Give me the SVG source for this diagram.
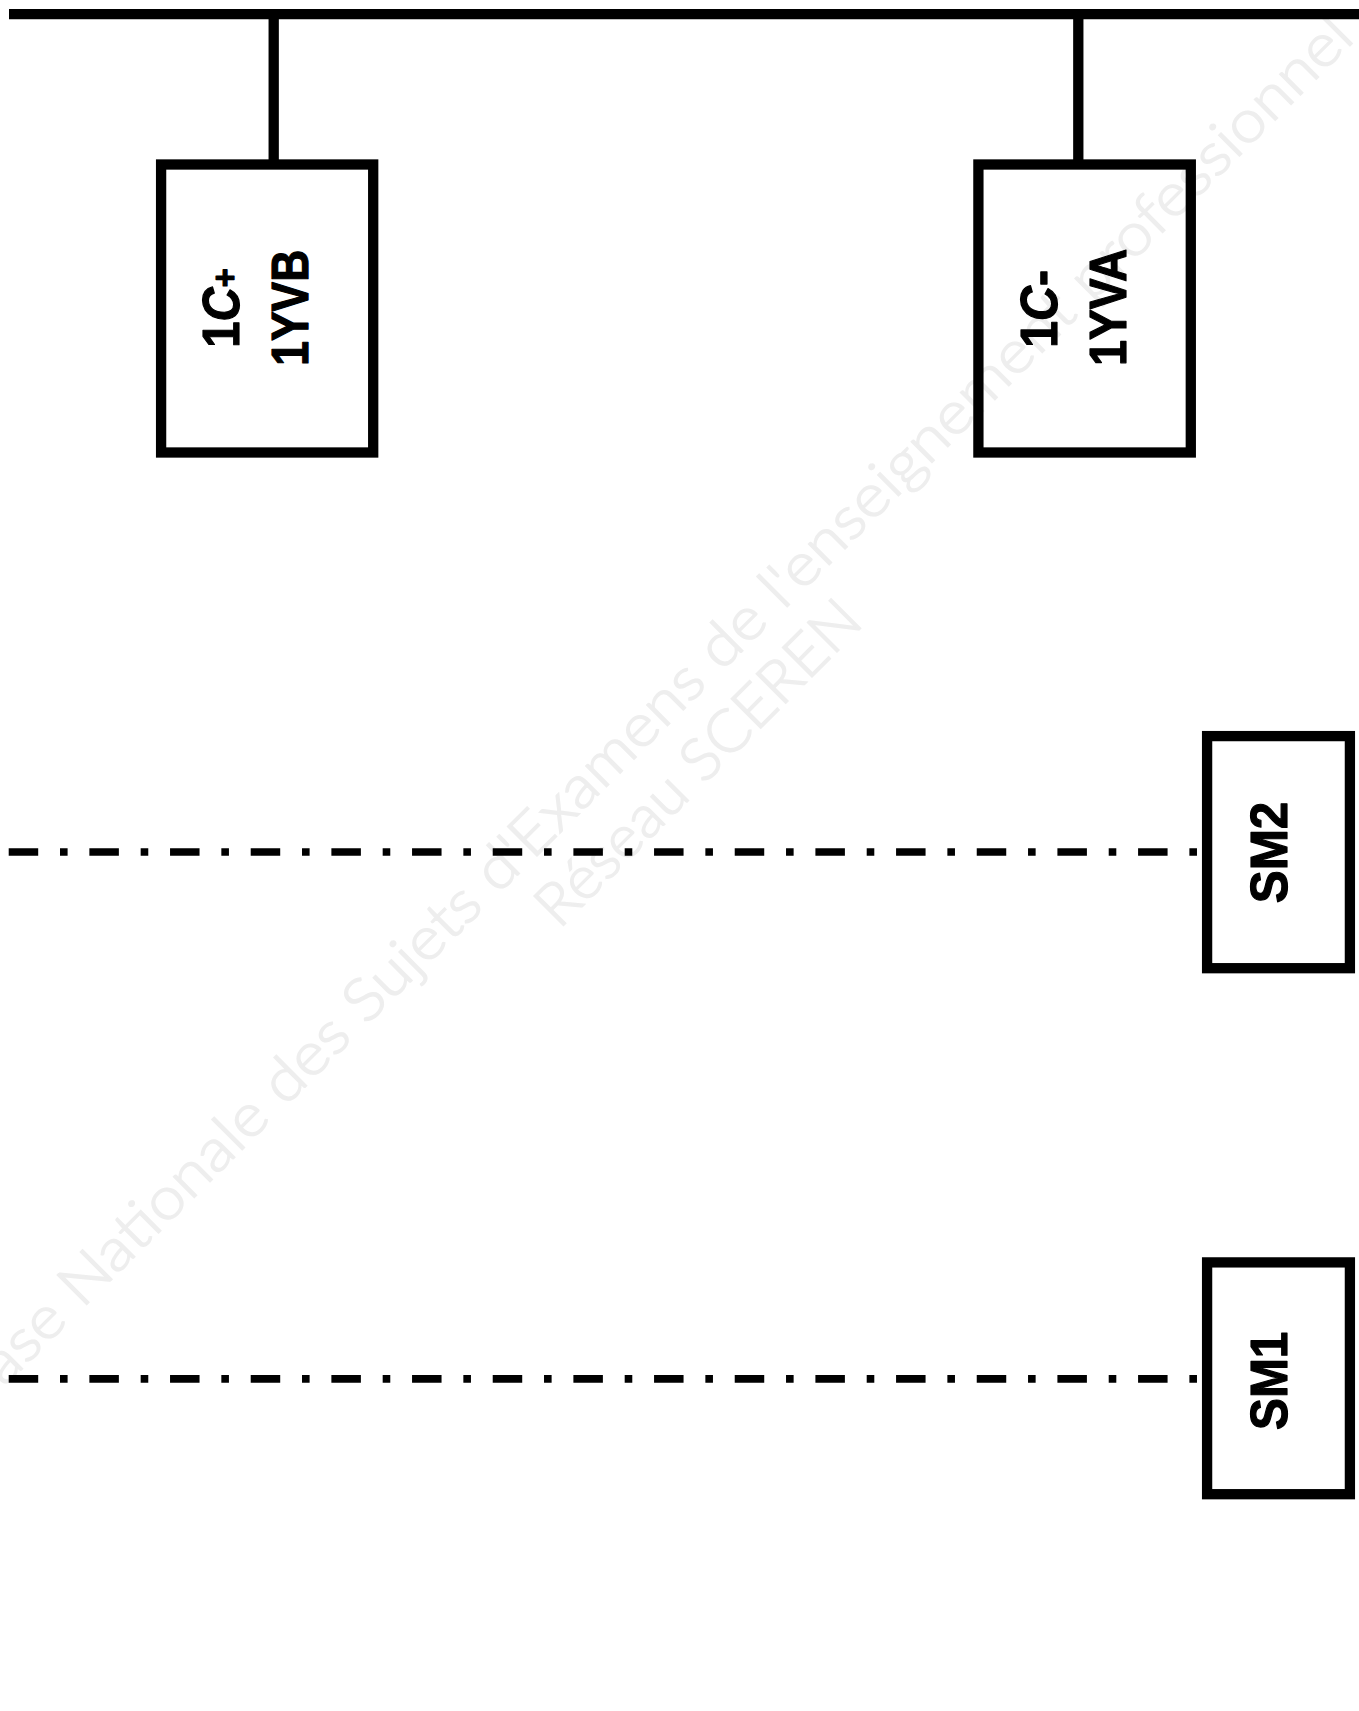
<svg xmlns="http://www.w3.org/2000/svg" width="1359" height="1711" viewBox="0 0 1359 1711">
<style>
.box{fill:none;stroke:#000;stroke-width:10.3}
.wire{fill:none;stroke:#000;stroke-width:10.3}
.dash{fill:none;stroke:#000;stroke-width:7.7;stroke-dasharray:29.5 21.8 7.6 21.77}
.lbl{font-family:"Liberation Sans",Arial,sans-serif;font-weight:700;font-size:51px;fill:#000;stroke:#000;stroke-width:1.2;stroke-linejoin:round}
.mark{font-family:Lato,"Open Sans",sans-serif;font-weight:300;font-size:59px;fill:#eee;stroke:#eee;stroke-width:1.4}
</style>
<rect width="1359" height="1711" fill="#fff"/>
<g id="watermark">
<text class="mark" transform="translate(-25,1416) rotate(-44.9)" textLength="1950" lengthAdjust="spacingAndGlyphs">Base Nationale des Sujets d'Examens de l'enseignement professionnel</text>
<text class="mark" transform="translate(559,930) rotate(-45)" textLength="433" lengthAdjust="spacingAndGlyphs">Réseau SCEREN</text>
</g>
<g id="connectors">
<path class="wire" d="M9 14.2H1359"/>
<path class="wire" d="M273.7 14V162"/>
<path class="wire" d="M1078.3 14V162"/>
<path class="dash" d="M8.7 852H1197"/>
<path class="dash" d="M8.7 1378.8H1197"/>
</g>
<g id="node-1C-plus">
<rect class="box" x="161.1" y="164.5" width="212.1" height="288"/>
<text class="lbl" transform="translate(238.7,347.7) rotate(-90)" textLength="79.4" lengthAdjust="spacingAndGlyphs">1<tspan font-style="italic">C</tspan><tspan font-size="35" dy="-2">+</tspan></text>
<text class="lbl" transform="translate(308.3,365.7) rotate(-90)" textLength="116" lengthAdjust="spacingAndGlyphs">1YVB</text>
</g>
<g id="node-1C-minus">
<rect class="box" x="978.4" y="164.5" width="212.4" height="288"/>
<text class="lbl" transform="translate(1056.7,347.7) rotate(-90)" textLength="77.7" lengthAdjust="spacingAndGlyphs">1<tspan font-style="italic">C</tspan>-</text>
<text class="lbl" transform="translate(1126,365.7) rotate(-90)" textLength="117" lengthAdjust="spacingAndGlyphs">1YVA</text>
</g>
<g id="node-SM2">
<rect class="box" x="1207.1" y="736.1" width="142.8" height="232.1"/>
<text class="lbl" transform="translate(1286.7,903.3) rotate(-90)" textLength="101.6" lengthAdjust="spacingAndGlyphs">SM2</text>
</g>
<g id="node-SM1">
<rect class="box" x="1207.1" y="1262.4" width="142.8" height="231.8"/>
<text class="lbl" transform="translate(1286.7,1430) rotate(-90)" textLength="98.3" lengthAdjust="spacingAndGlyphs">SM1</text>
</g>
</svg>
